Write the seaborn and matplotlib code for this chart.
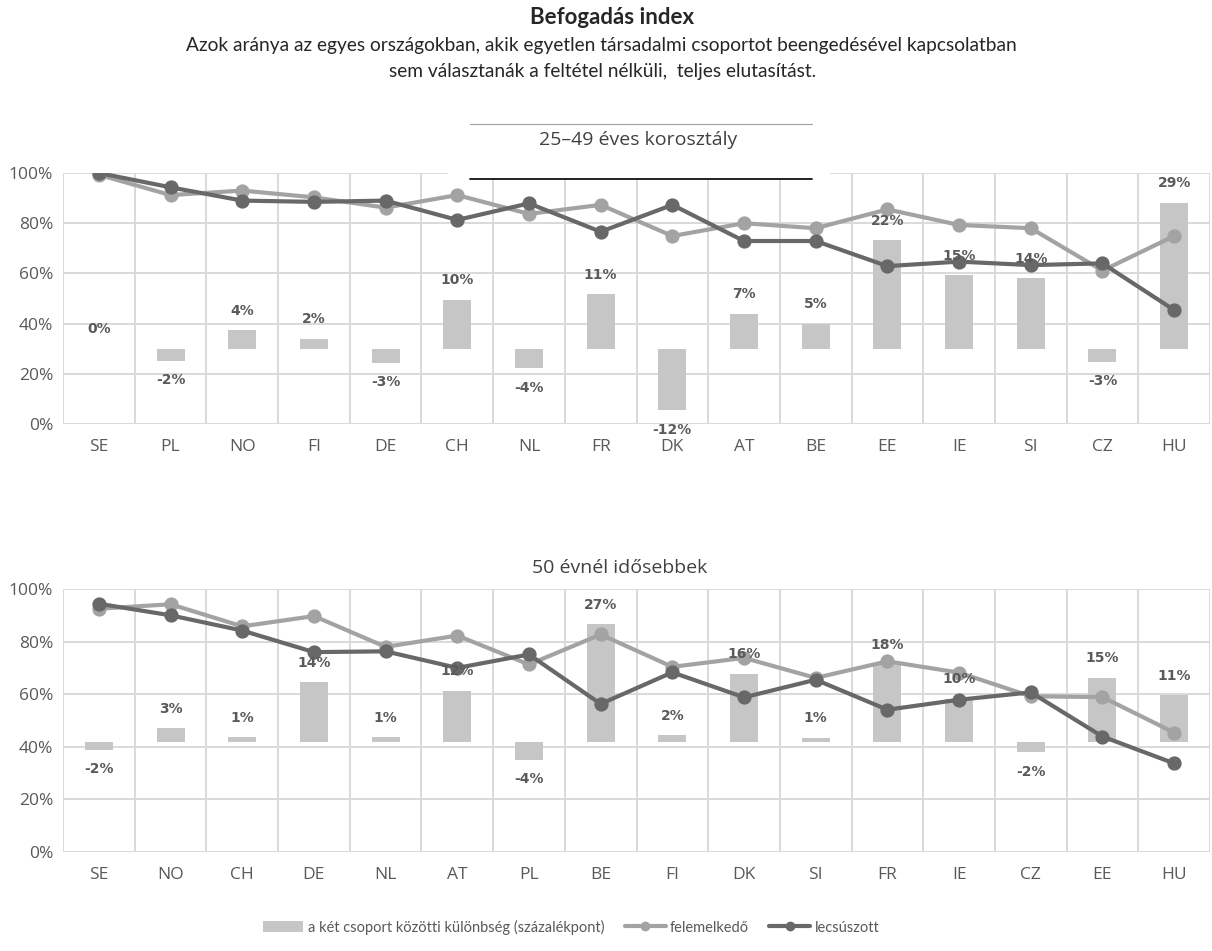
import numpy as np
import pandas as pd
import matplotlib
matplotlib.use("Agg")
import matplotlib.pyplot as plt
import seaborn as sns
from matplotlib.patches import Patch, Rectangle
from matplotlib.lines import Line2D
from matplotlib.ticker import PercentFormatter, FixedLocator

# ---------------- data ----------------
title = "Befogadás index"
subtitle_1 = "Azok aránya az egyes országokban, akik egyetlen társadalmi csoportot beengedésével kapcsolatban"
subtitle_2 = "sem választanák a feltétel nélküli,  teljes elutasítást."

panel1_title = "25–49 éves korosztály"
countries_young = ["SE", "PL", "NO", "FI", "DE", "CH", "NL", "FR",
                   "DK", "AT", "BE", "EE", "IE", "SI", "CZ", "HU"]
rising_young = [0.993, 0.912, 0.930, 0.903, 0.862, 0.912, 0.837, 0.873,
                0.749, 0.800, 0.780, 0.855, 0.793, 0.780, 0.611, 0.749]
falling_young = [1.000, 0.943, 0.890, 0.885, 0.890, 0.813, 0.879, 0.766,
                 0.873, 0.729, 0.729, 0.629, 0.647, 0.633, 0.640, 0.454]
diff_young = [0.000, -0.024, 0.037, 0.020, -0.028, 0.098, -0.039, 0.108,
              -0.123, 0.070, 0.050, 0.216, 0.146, 0.140, -0.026, 0.291]

panel2_title = "50 évnél idősebbek"
countries_old = ["SE", "NO", "CH", "DE", "NL", "AT", "PL", "BE",
                 "FI", "DK", "SI", "FR", "IE", "CZ", "EE", "HU"]
rising_old = [0.925, 0.942, 0.858, 0.897, 0.780, 0.823, 0.713, 0.827,
              0.704, 0.738, 0.662, 0.725, 0.682, 0.592, 0.589, 0.454]
falling_old = [0.944, 0.900, 0.842, 0.760, 0.763, 0.700, 0.751, 0.563,
               0.683, 0.588, 0.655, 0.541, 0.579, 0.607, 0.439, 0.337]
diff_old = [-0.017, 0.032, 0.012, 0.137, 0.012, 0.118, -0.040, 0.270,
            0.016, 0.157, 0.011, 0.178, 0.100, -0.022, 0.148, 0.108]

legend_labels = ["a két csoport közötti különbség (százalékpont)",
                 "felemelkedő", "lecsúszott"]

# ---------------- style ----------------
BAR = "#C6C6C6"
LIGHT = "#A3A3A3"
DARK = "#686868"
GRID = "#D9D9D9"
TICK = "#595959"
LABEL = "#5A5A5A"

sns.set_style("white")
plt.rcParams["font.family"] = ["Open Sans", "DejaVu Sans"]

W, H = 1212, 951
fig = plt.figure(figsize=(W / 100, H / 100), dpi=100)


def fx(px):
    return px / W


def fy(py):
    return 1 - py / H


def draw_panel(rect, countries, rising, falling, diff, bar_lim):
    n = len(countries)
    df = pd.DataFrame({"country": countries, "rising": rising,
                       "falling": falling, "diff": diff})
    ax = fig.add_axes(rect)
    sns.barplot(data=df, x="country", y="diff", ax=ax, color=BAR,
                saturation=1, width=0.39, errorbar=None, linewidth=0)
    ax.set_ylim(*bar_lim)
    lo, hi = bar_lim

    ax2 = ax.twinx()
    sns.pointplot(data=df, x="country", y="rising", ax=ax2, color=LIGHT,
                  markers="o", linestyles="-", markersize=8, linewidth=3.0,
                  errorbar=None)
    sns.pointplot(data=df, x="country", y="falling", ax=ax2, color=DARK,
                  markers="o", linestyles="-", markersize=8, linewidth=3.0,
                  errorbar=None)
    ax2.set_ylim(0, 1)
    ax2.yaxis.tick_left()
    ax2.set_yticks(np.arange(0, 1.01, 0.2))
    ax2.yaxis.set_major_formatter(PercentFormatter(1.0, decimals=0))
    ax2.tick_params(axis="y", length=0, pad=7, labelsize=12.5, labelcolor=TICK)
    ax2.set_xlabel("")
    ax2.set_ylabel("")
    for s in ax2.spines.values():
        s.set_visible(False)

    # grid on the base (bar) axis so bars sit above it
    ax.set_xlim(-0.5, n - 0.5)
    ax.yaxis.set_major_locator(FixedLocator(np.linspace(lo, hi, 6)))
    ax.set_xticks(np.arange(-0.5, n, 1), minor=True)
    ax.grid(True, which="major", axis="y", color=GRID, lw=1.4)
    ax.grid(True, which="minor", axis="x", color=GRID, lw=1.4)
    ax.grid(False, which="major", axis="x")
    ax.set_axisbelow(True)
    ax.tick_params(axis="y", left=False, labelleft=False, right=False,
                   labelright=False)
    ax.tick_params(axis="x", which="both", length=0, pad=11, labelsize=12.5,
                   labelcolor=TICK)
    ax.set_xlabel("")
    ax.set_ylabel("")
    for s in ax.spines.values():
        s.set_visible(False)

    for i, d in enumerate(diff):
        off = -9 if d < 0 else 9
        va = "top" if d < 0 else "bottom"
        ax2.annotate(f"{round(d * 100):.0f}%", xy=(i, d), xycoords=ax.transData,
                     xytext=(0, off), textcoords="offset points", ha="center",
                     va=va, fontsize=10, fontweight="bold", color=LABEL,
                     family="DejaVu Sans", zorder=10)
    return ax, ax2


top_rect = [fx(63), fy(424), fx(1210) - fx(63), fy(173) - fy(424)]
bot_rect = [fx(63), fy(852), fx(1210) - fx(63), fy(589) - fy(852)]

draw_panel(top_rect, countries_young, rising_young, falling_young,
           diff_young, (-0.15, 0.35))
draw_panel(bot_rect, countries_old, rising_old, falling_old,
           diff_old, (-0.25, 0.35))

# text box around the first panel title
fig.add_artist(Rectangle((fx(448), fy(178)), fx(830) - fx(448), fy(120) - fy(178),
                         transform=fig.transFigure, facecolor="white",
                         edgecolor="none", zorder=5))
fig.add_artist(Line2D([fx(470), fx(812)], [fy(124), fy(124)],
                      transform=fig.transFigure, color="#A0A0A0", lw=0.8, zorder=6))
fig.add_artist(Line2D([fx(470), fx(812)], [fy(178.5), fy(178.5)],
                      transform=fig.transFigure, color="#111111", lw=1.3, zorder=6))

# titles
fig.text(0.505, fy(18), title, ha="center", va="center", fontsize=16,
         fontweight="bold", color="#262626", family=["Lato", "DejaVu Sans"])
fig.text(0.496, fy(45), subtitle_1, ha="center", va="center", fontsize=13.8,
         color="#262626", family=["Lato", "DejaVu Sans"])
fig.text(0.497, fy(71), subtitle_2, ha="center", va="center", fontsize=13.8,
         color="#262626", family=["Lato", "DejaVu Sans"])
fig.text(fx(638), fy(140), panel1_title, ha="center", va="center",
         fontsize=14, color="#404040", zorder=7)
fig.text(fx(620), fy(568), panel2_title, ha="center", va="center",
         fontsize=14, color="#404040", zorder=7)

# legend
handles = [Patch(facecolor=BAR, edgecolor="none"),
           Line2D([], [], color=LIGHT, lw=3.0, marker="o", markersize=6),
           Line2D([], [], color=DARK, lw=3.0, marker="o", markersize=6)]
fig.legend(handles, legend_labels, loc="center", bbox_to_anchor=(fx(571), fy(927)),
           ncol=3, frameon=False, handlelength=2.8, handletextpad=0.3,
           columnspacing=1.4, prop={"family": ["Lato", "DejaVu Sans"], "size": 10.5},
           labelcolor=TICK)

fig.savefig("out.png", dpi=100)
